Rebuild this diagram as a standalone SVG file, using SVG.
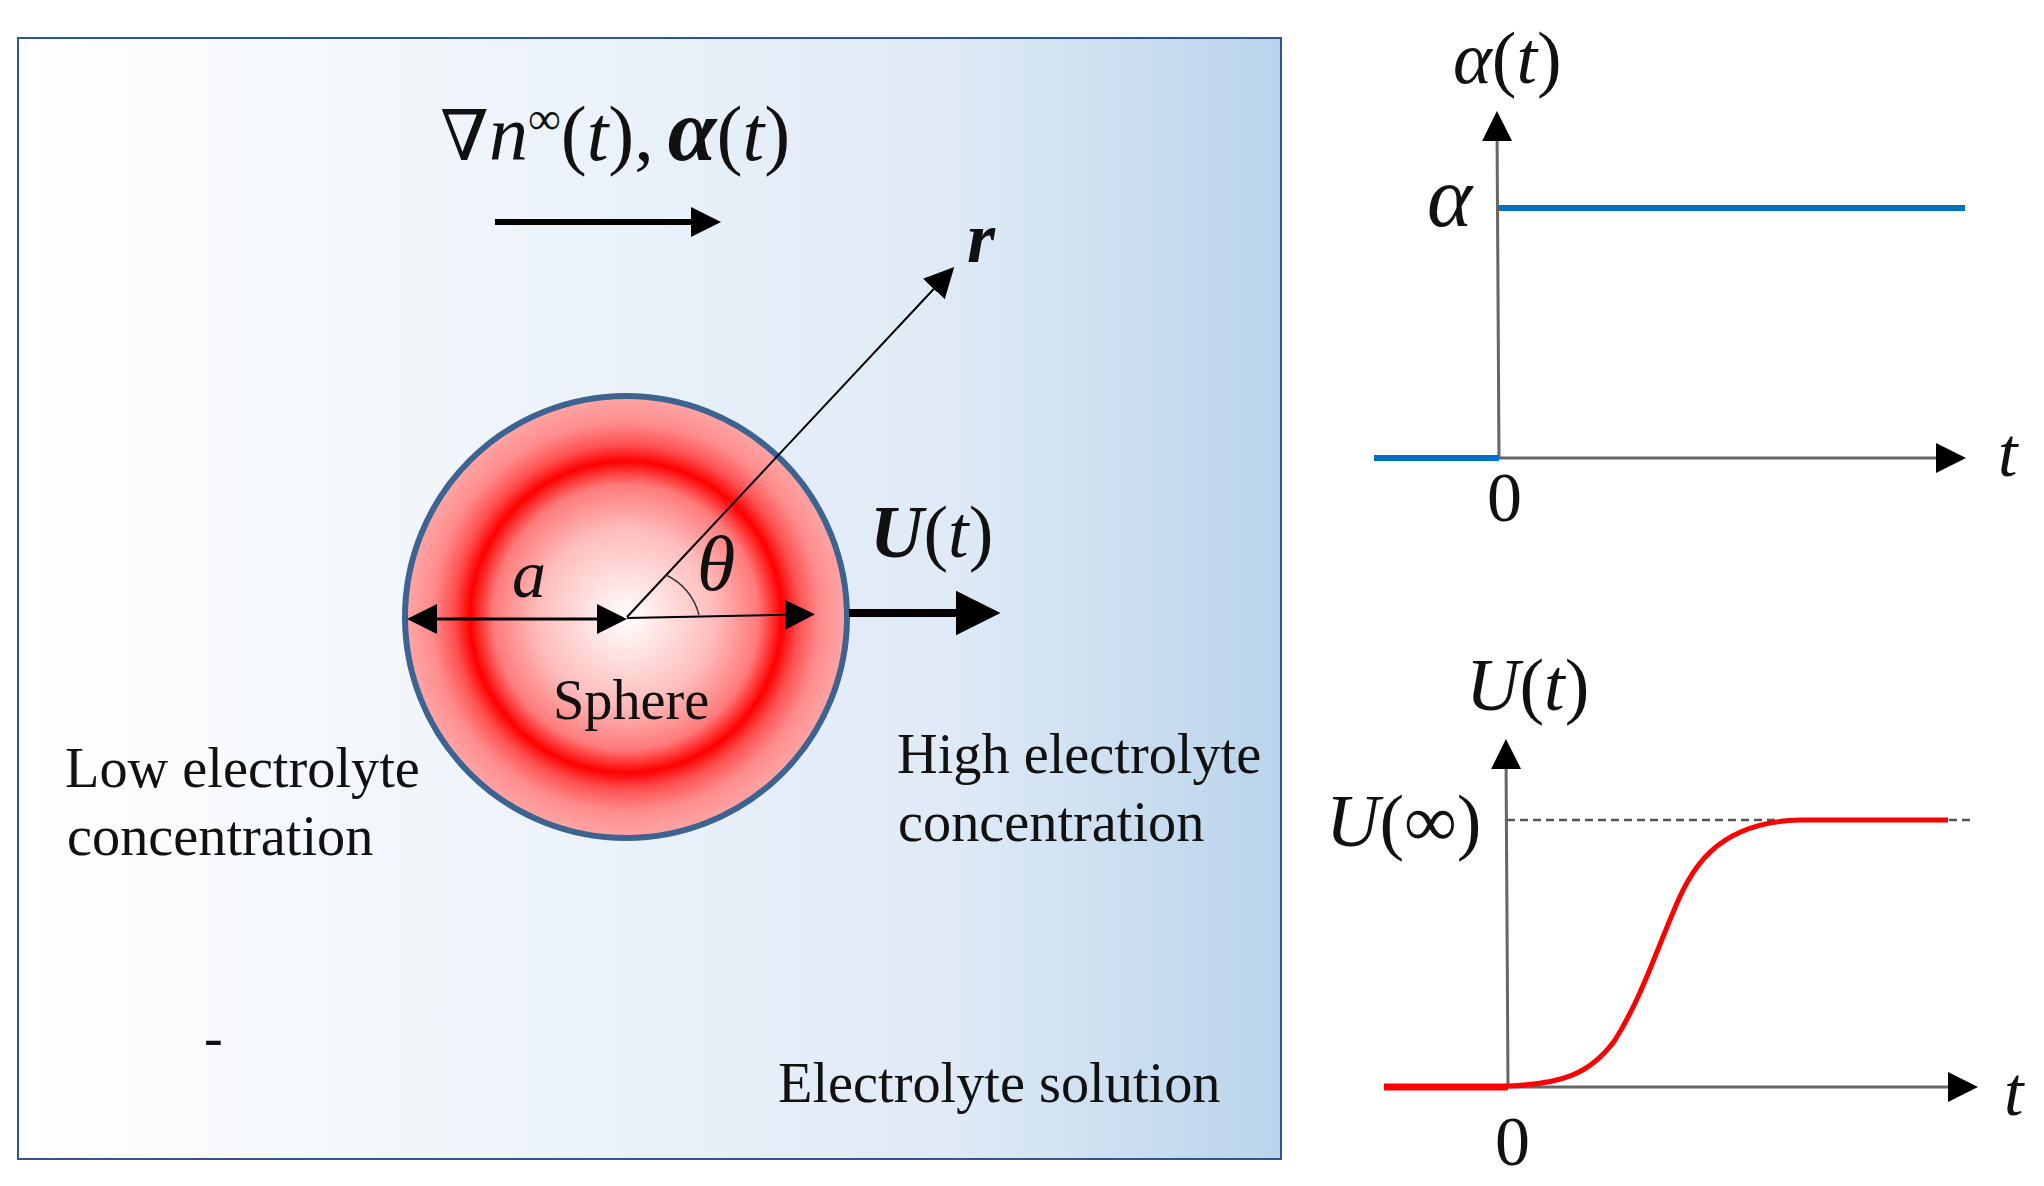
<svg xmlns="http://www.w3.org/2000/svg" width="2044" height="1186" viewBox="0 0 2044 1186">
<style>
text{font-family:"Liberation Serif","Times New Roman",serif;fill:#111}
.lbl{font-size:56.3px}
.math{font-size:74px}
.big{font-size:78px}
.i{font-style:italic}
.b{font-weight:bold;font-style:italic}
.ax{stroke:#666;stroke-width:3;fill:none}
.blk{stroke:#000;fill:none}
</style>
<defs>
<linearGradient id="bg" x1="0" x2="1" y1="0" y2="0">
<stop offset="0" stop-color="#ffffff"/><stop offset="0.74" stop-color="#dfeaf6"/><stop offset="1" stop-color="#bad4eb"/>
</linearGradient>
<radialGradient id="sph">
<stop offset="0" stop-color="#ffffff"/><stop offset="0.4" stop-color="#ffbcbc"/><stop offset="0.6" stop-color="#ff7a7a"/><stop offset="0.705" stop-color="#ff0000"/><stop offset="0.78" stop-color="#ff5050"/><stop offset="0.88" stop-color="#ff8c8c"/><stop offset="1" stop-color="#ffa6a6"/>
</radialGradient>
<marker id="hd" viewBox="0 0 10 10" refX="5" refY="5" markerUnits="userSpaceOnUse" markerWidth="30" markerHeight="32" orient="auto-start-reverse"><path d="M0 0L10 5L0 10Z" fill="#000"/></marker>
<marker id="hl" viewBox="0 0 10 10" refX="5" refY="5" markerUnits="userSpaceOnUse" markerWidth="45" markerHeight="46" orient="auto"><path d="M0 0L10 5L0 10Z" fill="#000"/></marker>
</defs>
<g id="solution"><rect x="18" y="38" width="1263" height="1121" fill="url(#bg)" stroke="#2f5597" stroke-width="2"/></g>
<g id="sphere"><circle cx="626" cy="617" r="221" fill="url(#sph)" stroke="#3d6391" stroke-width="6"/>
<text class="lbl" x="553" y="719">Sphere</text></g>
<g id="connectors">
<line class="blk" x1="495" y1="222" x2="706" y2="222" stroke-width="6" marker-end="url(#hd)"/>
<line class="blk" x1="627" y1="617" x2="944" y2="278" stroke-width="2" marker-end="url(#hd)"/>
<line class="blk" x1="422" y1="619" x2="612" y2="619" stroke-width="3" marker-start="url(#hd)" marker-end="url(#hd)"/>
<line class="blk" x1="627" y1="618" x2="800" y2="614.500" stroke-width="2" marker-end="url(#hd)"/>
<line class="blk" x1="849" y1="613" x2="978" y2="613" stroke-width="8" marker-end="url(#hl)"/>
<path d="M666 575A60 60 0 0 1 699 615" stroke="#333" stroke-width="1.5" fill="none"/>
<line class="ax" x1="1499" y1="458" x2="1497" y2="126" marker-end="url(#hd)"/>
<line class="ax" x1="1499" y1="458" x2="1951" y2="458" marker-end="url(#hd)"/>
<line class="ax" x1="1508" y1="1087" x2="1506" y2="754" marker-end="url(#hd)"/>
<line class="ax" x1="1508" y1="1087" x2="1963" y2="1087" marker-end="url(#hd)"/>
<line x1="1507" y1="820" x2="1970" y2="820" stroke="#555" stroke-width="2.5" stroke-dasharray="8 5"/>
<path d="M1374 458H1499M1499 208H1965" stroke="#0070c0" stroke-width="6" fill="none"/>
<path d="M1384 1087H1508" stroke="#ff0000" stroke-width="7" fill="none"/>
<path d="M1508 1086C1560 1084 1590 1075 1615 1040C1640 1000 1655 955 1672 915C1690 870 1715 822 1800 820L1948 820" stroke="#ff0000" stroke-width="5" fill="none"/>
</g>
<g id="labels">
<text class="big" x="440" y="160"><tspan font-family="DejaVu Serif" font-size="70">∇</tspan><tspan class="i big">n</tspan><tspan font-size="46" dy="-26">∞</tspan><tspan class="big" dy="26">(</tspan><tspan class="i big">t</tspan><tspan class="big">),</tspan><tspan class="b" font-size="88" dx="14">α</tspan><tspan class="big">(</tspan><tspan class="i big">t</tspan><tspan class="big">)</tspan></text>
<text class="b" x="967" y="262" font-size="72">r</text>
<text class="i" x="512" y="597" font-size="68">a</text>
<text class="i" x="697" y="590" font-size="78">θ</text>
<text class="math" x="870" y="557"><tspan class="b">U</tspan>(<tspan class="i">t</tspan>)</text>
<text class="lbl" x="65" y="787">Low electrolyte</text>
<text class="lbl" x="67" y="855">concentration</text>
<text class="lbl" x="897" y="773">High electrolyte</text>
<text class="lbl" x="898" y="841">concentration</text>
<text class="lbl" x="204" y="1056">-</text>
<text class="lbl" x="778" y="1102">Electrolyte solution</text>
<text class="math" x="1453" y="83"><tspan class="i">α</tspan>(<tspan class="i">t</tspan>)</text>
<text class="i" x="1427" y="226" font-size="86">α</text>
<text class="i" x="1998" y="476" font-size="70">t</text>
<text x="1487" y="521" font-size="70">0</text>
<text class="math" x="1466" y="710"><tspan class="i">U</tspan>(<tspan class="i">t</tspan>)</text>
<text class="math" x="1326" y="846"><tspan class="i">U</tspan>(∞)</text>
<text class="i" x="2004" y="1115" font-size="70">t</text>
<text x="1495" y="1165" font-size="70">0</text>
</g>
</svg>
